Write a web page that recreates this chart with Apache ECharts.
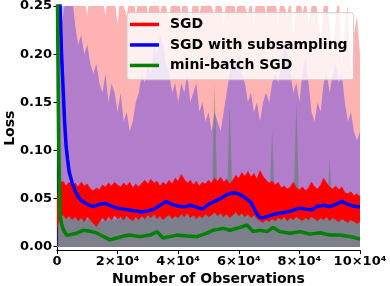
<!DOCTYPE html>
<html><head><meta charset="utf-8">
<script src="https://cdn.jsdelivr.net/npm/echarts@6/dist/echarts.min.js"></script>
<style>html,body{margin:0;padding:0;background:#fff}#c{width:390px;height:286px}</style>
</head><body><div id="c"></div>
<script>
// Observations (in thousands) for the band / noisy series
const obsK = [0,1,2,3,4,5,6,7,8,9,10,11,12,13,14,15,16,17,18,19,20,21,22,23,24,25,26,27,28,29,30,31,32,33,34,35,36,37,38,39,40,41,42,43,44,45,46,47,48,49,50,51,52,53,54,55,56,57,58,59,60,61,62,63,64,65,66,67,68,69,70,71,72,73,74,75,76,77,78,79,80,81,82,83,84,85,86,87,88,89,90,91,92,93,94,95,96,97,98,99,100];
// SGD: upper edge of std band (light red)
const sgdBandUpper = [0.23,0.22,0.24,0.26,0.27,0.26,0.27,0.25,0.27,0.26,0.24,0.27,0.26,0.25,0.27,0.26,0.24,0.27,0.25,0.26,0.23,0.27,0.25,0.24,0.26,0.27,0.24,0.26,0.25,0.27,0.24,0.26,0.25,0.27,0.24,0.26,0.25,0.23,0.27,0.25,0.26,0.24,0.27,0.25,0.23,0.26,0.27,0.24,0.26,0.25,0.27,0.25,0.24,0.27,0.26,0.23,0.26,0.25,0.27,0.24,0.26,0.27,0.25,0.24,0.26,0.23,0.27,0.25,0.26,0.24,0.27,0.25,0.26,0.23,0.27,0.25,0.24,0.26,0.22,0.25,0.27,0.24,0.26,0.23,0.25,0.27,0.24,0.21,0.25,0.26,0.23,0.20,0.24,0.26,0.19,0.23,0.25,0.18,0.22,0.24,0.20];
// SGD with subsampling: upper edge of std band (purple)
const subBandUpper = [0.32,0.30,0.27,0.26,0.25,0.26,0.23,0.21,0.22,0.20,0.21,0.19,0.18,0.19,0.17,0.16,0.18,0.15,0.17,0.16,0.14,0.16,0.13,0.14,0.12,0.13,0.15,0.16,0.18,0.17,0.19,0.18,0.21,0.20,0.22,0.21,0.19,0.18,0.16,0.17,0.15,0.17,0.16,0.18,0.15,0.16,0.17,0.14,0.15,0.13,0.14,0.12,0.14,0.13,0.12,0.14,0.16,0.18,0.20,0.19,0.20,0.18,0.17,0.15,0.16,0.14,0.15,0.13,0.15,0.16,0.15,0.17,0.18,0.17,0.19,0.21,0.20,0.18,0.16,0.17,0.15,0.18,0.20,0.17,0.14,0.13,0.15,0.14,0.17,0.18,0.16,0.18,0.19,0.17,0.18,0.15,0.13,0.14,0.12,0.11,0.12];
// mini-batch SGD: upper edge of std band (gray)
const mbBandUpper = [0.30,0.06,0.035,0.03,0.032,0.028,0.03,0.033,0.029,0.031,0.028,0.03,0.027,0.032,0.029,0.026,0.03,0.028,0.031,0.027,0.03,0.029,0.033,0.03,0.036,0.032,0.034,0.031,0.035,0.03,0.033,0.036,0.032,0.038,0.034,0.04,0.035,0.033,0.037,0.034,0.036,0.033,0.035,0.038,0.034,0.032,0.036,0.033,0.037,0.035,0.038,0.036,0.17,0.04,0.036,0.039,0.035,0.15,0.038,0.04,0.042,0.039,0.043,0.037,0.04,0.036,0.038,0.034,0.037,0.035,0.036,0.12,0.034,0.037,0.033,0.036,0.032,0.035,0.034,0.15,0.033,0.036,0.032,0.035,0.031,0.034,0.03,0.033,0.031,0.034,0.09,0.032,0.03,0.033,0.029,0.031,0.028,0.03,0.027,0.029,0.026];
// SGD mean (noisy): high / low envelope of the red trace
const sgdHigh = [0.048,0.066,0.068,0.063,0.067,0.064,0.066,0.062,0.067,0.063,0.065,0.06,0.058,0.061,0.059,0.064,0.062,0.066,0.063,0.067,0.064,0.062,0.066,0.063,0.067,0.061,0.065,0.062,0.066,0.069,0.065,0.07,0.066,0.068,0.063,0.067,0.064,0.069,0.065,0.071,0.068,0.075,0.07,0.066,0.069,0.064,0.068,0.063,0.067,0.065,0.069,0.066,0.071,0.068,0.072,0.067,0.07,0.065,0.069,0.074,0.071,0.077,0.073,0.078,0.072,0.076,0.07,0.079,0.073,0.069,0.066,0.068,0.064,0.067,0.061,0.063,0.06,0.062,0.067,0.061,0.059,0.062,0.058,0.061,0.067,0.062,0.06,0.064,0.071,0.066,0.062,0.06,0.063,0.059,0.062,0.056,0.055,0.057,0.053,0.055,0.052];
const sgdLow = [0.02,0.03,0.033,0.029,0.032,0.028,0.031,0.027,0.03,0.026,0.031,0.028,0.024,0.021,0.026,0.03,0.027,0.031,0.028,0.033,0.029,0.031,0.028,0.032,0.029,0.027,0.031,0.028,0.032,0.029,0.033,0.03,0.034,0.029,0.032,0.028,0.031,0.033,0.029,0.032,0.03,0.034,0.031,0.035,0.03,0.033,0.029,0.032,0.03,0.034,0.031,0.033,0.036,0.032,0.035,0.031,0.034,0.03,0.033,0.036,0.032,0.035,0.031,0.034,0.03,0.033,0.029,0.027,0.025,0.028,0.026,0.029,0.027,0.03,0.028,0.031,0.027,0.03,0.028,0.031,0.029,0.027,0.03,0.028,0.031,0.029,0.027,0.03,0.028,0.031,0.027,0.03,0.028,0.026,0.029,0.027,0.025,0.028,0.026,0.024,0.026];
// SGD with subsampling mean (blue)
const subObsK = [0,0.5,1,1.5,2,2.5,3,3.5,4,5,6,7,8,10,12,14,16,18,20,22,24,26,28,30,32,34,36,38,40,42,44,46,48,50,52,54,56,58,60,62,64,66,67,68,70,72,74,76,78,80,82,84,86,88,90,92,94,96,98,100];
const subMean = [0.31,0.28,0.25,0.2,0.165,0.13,0.105,0.09,0.078,0.066,0.058,0.052,0.048,0.044,0.0415,0.044,0.045,0.042,0.040,0.039,0.038,0.037,0.036,0.037,0.039,0.043,0.047,0.044,0.042,0.0415,0.043,0.041,0.039,0.044,0.047,0.050,0.054,0.056,0.055,0.051,0.046,0.034,0.030,0.030,0.032,0.034,0.035,0.036,0.038,0.040,0.039,0.038,0.042,0.043,0.0415,0.044,0.047,0.044,0.042,0.0415];
// mini-batch SGD mean (green)
const mbObsK = [0,0.3,0.6,0.9,1.1,1.6,2.2,3.2,3.9,5,6.5,8.6,10.9,13.2,15,17.5,19.8,22,24,27.4,30.7,33,35,37.3,39.6,42.9,46.2,49.5,51.5,54.8,57.1,60.4,62.7,64.7,67,69.3,71.3,73.6,76.9,80.2,83.5,86.8,90.1,93.4,96.7,100];
const mbMean = [0.31,0.2,0.1,0.05,0.031,0.022,0.017,0.012,0.012,0.013,0.014,0.017,0.016,0.014,0.011,0.007,0.009,0.011,0.012,0.0104,0.012,0.0156,0.009,0.0104,0.012,0.011,0.0104,0.014,0.017,0.019,0.017,0.020,0.0225,0.0156,0.017,0.0156,0.020,0.0156,0.014,0.0156,0.013,0.0145,0.012,0.012,0.0104,0.008];
// axis ticks
const xTicks = [0,20000,40000,60000,80000,100000];
const yTicks = [0,0.05,0.10,0.15,0.20,0.25];
const seriesNames = ['SGD','SGD with subsampling','mini-batch SGD'];

const pairs = (xs, ys) => xs.map((x,i)=>[x*1000, ys[i]]);
const FONT = 'DejaVu Sans';
const chart = echarts.init(document.getElementById('c'), null, {renderer:'canvas'});
const band = (name, ys, color) => ({
  name, type:'line', z:2, data: pairs(obsK, ys), symbol:'none', silent:true,
  lineStyle:{width:0}, areaStyle:{color, opacity:1}, animation:false
});
// red SGD trace envelope: polygon between sgdLow and sgdHigh, placed via the axes
const sgdEnvelope = {
  name: 'SGD trace', type:'custom', z:3, silent:true, animation:false, clip:true,
  itemStyle:{color:'#ff0000'},
  data: obsK.map((k,i)=>[k*1000, sgdLow[i], sgdHigh[i]]),
  encode:{x:0, y:[1,2]},
  renderItem:(params, api) => {
    if (params.dataIndex !== 0) return null;
    const pts = [];
    for (let i=0;i<obsK.length;i++) pts.push(api.coord([obsK[i]*1000, sgdHigh[i]]));
    for (let i=obsK.length-1;i>=0;i--) pts.push(api.coord([obsK[i]*1000, sgdLow[i]]));
    return {type:'polygon', shape:{points:pts}, style:{fill:'#ff0000', stroke:'#ff0000', lineWidth:0.6}};
  }
};
chart.setOption({
  animation:false,
  grid:{left:57,right:30,top:6,bottom:35.5, outerBoundsMode:'none', containLabel:false},
  legend:{
    left:127, top:12.7, orient:'vertical', itemGap:0, itemWidth:29, itemHeight:3.5,
    padding:[1.5,6,4,3], backgroundColor:'rgba(255,255,255,0.8)', borderColor:'#cccccc',
    borderWidth:1, borderRadius:3, icon:'rect', selectedMode:false, z:10,
    textStyle:{fontFamily:FONT, fontWeight:'bold', fontSize:14, color:'#000', lineHeight:20.5, padding:[0,0,0,6]},
    data:[
      {name:seriesNames[0], itemStyle:{color:'#ff0000'}, lineStyle:{color:'#ff0000', width:3.5}},
      {name:seriesNames[1], itemStyle:{color:'#0000ff'}, lineStyle:{color:'#0000ff', width:3.5}},
      {name:seriesNames[2], itemStyle:{color:'#008000'}, lineStyle:{color:'#008000', width:3.5}}
    ]
  },
  xAxis:[{
    type:'value', min:0, max:100000, interval:20000,
    axisLine:{show:true, onZero:false, lineStyle:{color:'#000', width:1.2}},
    axisTick:{show:true, length:3.5, lineStyle:{color:'#000', width:1}},
    splitLine:{show:false},
    axisLabel:{margin:5, fontFamily:FONT, fontWeight:'bold', fontSize:13, color:'#000',
      formatter:v => v===0 ? '0' : (v/10000)+'×10⁴'},
    name:'Number of Observations', nameLocation:'middle', nameGap:22, nameMoveOverlap:false,
    nameTextStyle:{fontFamily:FONT, fontWeight:'bold', fontSize:14, color:'#000'}
  },{
    type:'value', position:'top', min:0, max:100000,
    axisLine:{show:true, lineStyle:{color:'#cccccc', width:1.2}},
    axisTick:{show:false}, axisLabel:{show:false}, splitLine:{show:false}
  }],
  yAxis:{
    type:'value', min:-0.004, max:0.25,
    axisLine:{show:true, lineStyle:{color:'#000', width:1.2}},
    axisTick:{show:true, length:3.5, customValues:yTicks, lineStyle:{color:'#000', width:1}},
    splitLine:{show:false},
    axisLabel:{margin:5, customValues:yTicks, fontFamily:FONT, fontWeight:'bold', fontSize:13, color:'#000',
      formatter:v => v.toFixed(2)},
    name:'Loss', nameLocation:'middle', nameGap:40, nameMoveOverlap:false,
    nameTextStyle:{fontFamily:FONT, fontWeight:'bold', fontSize:14, color:'#000'}
  },
  series:[
    band('SGD band', sgdBandUpper, 'rgba(255,0,0,0.3)'),
    band('subsampling band', subBandUpper, 'rgba(0,0,255,0.3)'),
    band('mini-batch band', mbBandUpper, 'rgba(0,128,0,0.3)'),
    sgdEnvelope,
    {name:seriesNames[0], type:'line', z:3, color:'#ff0000', data:[], symbol:'none',
      lineStyle:{width:3.5, color:'#ff0000'}, animation:false},
    {name:seriesNames[1], type:'line', z:4, color:'#0000ff', data:pairs(subObsK, subMean), symbol:'none',
      lineStyle:{width:3.5, color:'#0000ff'}, animation:false},
    {name:seriesNames[2], type:'line', z:4, color:'#008000', data:pairs(mbObsK, mbMean), symbol:'none',
      lineStyle:{width:3.5, color:'#008000'}, animation:false}
  ]
});
</script></body></html>
